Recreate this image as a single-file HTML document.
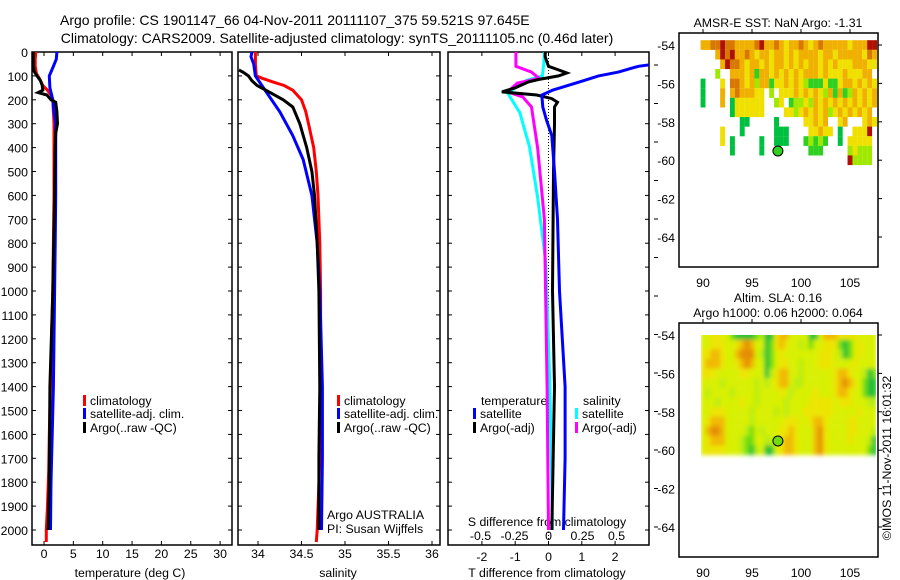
<!DOCTYPE html>
<html><head><meta charset="utf-8"><style>
html,body{margin:0;padding:0;background:#fff;}
svg{display:block;font-family:"Liberation Sans",sans-serif;}
</style></head><body>
<svg id="fig" width="900" height="580" viewBox="0 0 900 580" xmlns="http://www.w3.org/2000/svg">
<rect width="900" height="580" fill="#fff"/>
<text x="60" y="25" font-size="14">Argo profile: CS 1901147_66 04-Nov-2011 20111107_375 59.521S 97.645E</text>
<text x="337" y="43" font-size="14" text-anchor="middle">Climatology: CARS2009. Satellite-adjusted climatology: synTS_20111105.nc (0.46d later)</text>
<defs>
<clipPath id="c1"><rect x="32" y="52" width="200" height="493"/></clipPath>
<clipPath id="c2"><rect x="238" y="52" width="202" height="493"/></clipPath>
<clipPath id="c3"><rect x="448" y="52" width="201" height="493"/></clipPath>
<clipPath id="slaclip"><rect x="701" y="335" width="175" height="126"/></clipPath>
<filter id="soft" x="-5%" y="-5%" width="110%" height="110%"><feGaussianBlur stdDeviation="2.2"/></filter>
</defs>
<g id="layer"></g>
</svg>
<script>
// ---- profile data (depth in m) ----
const depthTicks = [0,100,200,300,400,500,600,700,800,900,1000,1100,1200,1300,1400,1500,1600,1700,1800,1900,2000];
const tempTicks = [0,5,10,15,20,25,30];
const salTicks = [34,34.5,35,35.5,36];
const salTickLabels = ["34","34.5","35","35.5","36"];
const tdTicks = [-2,-1,0,1,2];
const sdTicks = [-0.5,-0.25,0,0.25,0.5];
const sdTickLabels = ["-0.5","-0.25","0","0.25","0.5"];

const climTDepth = [0,30,60,90,110,140,160,180,200,250,300,400,600,800,1000,1200,1400,1600,1750,1900,2000,2050];
const climT = [-1.4,-1.5,-1.5,-1.3,-0.8,-0.2,0.6,1.2,1.5,1.6,1.7,1.7,1.7,1.6,1.5,1.3,1.1,0.9,0.8,0.6,0.4,0.4];
const satTDepth = [0,30,60,100,150,200,250,300,400,600,800,1000,1200,1400,1600,1800,2000];
const satT = [2.2,2.1,1.6,0.9,1.0,1.5,1.7,2.0,2.0,2.0,1.9,1.8,1.7,1.6,1.4,1.2,1.1];
const argoTDepth = [0,20,50,80,100,120,140,160,170,180,200,210,250,300,340,400,600,1000,1400,1800,2000];
const argoT = [-1.8,-1.8,-1.8,-1.7,-1.2,-0.6,-0.3,-0.2,-1.0,0.5,1.2,2.0,2.2,2.3,2.0,1.9,1.8,1.5,1.0,0.9,0.7];

const climSDepth = [0,50,100,110,125,140,160,200,250,300,400,500,600,800,1000,1400,1700,2000,2050];
const climS = [33.97,33.97,33.98,34.05,34.17,34.3,34.4,34.5,34.55,34.58,34.64,34.67,34.69,34.71,34.72,34.72,34.71,34.68,34.67];
const satSDepth = [0,20,50,100,170,250,350,450,600,800,1000,1400,1700,2000];
const satS = [33.93,33.92,33.95,33.97,34.1,34.25,34.4,34.52,34.62,34.68,34.71,34.74,34.74,34.73];
const argoSDepth = [75,85,100,120,140,170,200,230,300,400,500,600,800,1000,1400,1700,2000];
const argoS = [33.78,33.83,33.89,33.93,33.99,34.14,34.29,34.4,34.48,34.56,34.62,34.65,34.68,34.7,34.71,34.7,34.7];

const satTdDepth = [50,60,84,100,125,160,180,230,285,350,500,700,1000,1400,1700,2000];
const satTd = [3.2,2.7,2.1,1.5,0.93,0.12,-0.2,-0.17,-0.06,0.1,0.18,0.27,0.33,0.5,0.5,0.45];
const argoTdDepth = [0,20,40,60,75,88,100,115,125,150,167,180,195,210,230,300,500,1000,1400,2000];
const argoTd = [-0.1,-0.1,-0.05,0,0.3,0.55,0.3,-0.3,-0.6,-1.0,-1.4,-0.35,0.1,0.27,0.18,0.18,0.15,0.12,0.18,0.1];
const satSdDepth = [0,50,100,118,172,255,397,607,883,1400,2000];
const satSd = [-0.03,-0.035,-0.045,-0.16,-0.3,-0.21,-0.14,-0.08,-0.02,0.01,0.03];
const argoSdDepth = [0,40,60,84,110,130,167,188,230,400,700,1400,2000];
const argoSd = [-0.24,-0.24,-0.24,-0.125,-0.07,-0.23,-0.3,-0.19,-0.125,-0.08,-0.03,-0.01,0];

// ---- map data ----
const latTicks = [-54,-56,-58,-60,-62,-64];
const lonTicks = [90,95,100,105];
const sstRows = [
"445565544445644543445434544444344466",
"...465644543443443434444344344444354",
"....465543443434434343443434333444334",
"...2..44434144343434344434333433344",
"0...3.554342441334343211131134434343",
"0...4.4544433.2.33343434324141243434",
"0...4.0333333..23.122324343434343434",
"......0333333....332343434234343434",
"........00.....0.....33434..34...343",
"....3...0......000....33433.0..3336",
"....3.0.....0..000...12121..0.33333",
"......0.....0.........111.....23222",
"..............................62222"];
const slaRows = [
"334433100001200455333300355544443333",
"334443345653301454332313344410134333",
"445543356663201343333333444320134333",
"455543345653301344332333444333343333",
"444333334433302455332333333455433201",
"333323333332323455322333333456543100",
"323333233332333343233334333455433100",
"333233334332333332333344444344433322",
"334443333323333232333444444333334333",
"345553333323333334443345543333443333",
"356653333213233344543335643333443332",
"345553332113322345543335643333433320",
"344443332102300345543335643333333310"];
const argoLon = 97.645, argoLat = -59.521;

const NS="http://www.w3.org/2000/svg";
const layer=document.getElementById('layer');
function el(tag,attrs,parent){const e=document.createElementNS(NS,tag);for(const k in attrs)e.setAttribute(k,attrs[k]);(parent||layer).appendChild(e);return e;}
function txt(s,x,y,attrs,parent){const e=el('text',Object.assign({x:x,y:y,'font-size':12.3},attrs||{}),parent);e.textContent=s;return e;}

const Y0=52, KY=0.239, PB=545;
const yD=d=>Y0+d*KY;
const xT=v=>44+v*5.87;
const xS=v=>258+(v-34)*87;
const xTd=v=>548.5+v*33.3;
const xSd=v=>548.5+v*136;

function panel(name,x0,x1){
  const g=el('g',{});
  
  
  el('rect',{x:x0,y:Y0,width:x1-x0,height:PB-Y0,fill:'none',stroke:'#000','stroke-width':1.5},g);
  depthTicks.forEach(d=>{
    el('line',{x1:x0,x2:x0+4,y1:yD(d),y2:yD(d),stroke:'#000'},g);
    el('line',{x1:x1-4,x2:x1,y1:yD(d),y2:yD(d),stroke:'#000'},g);
  });
  return g;
}
function xticks(g,ticks,labels,fx,ly){
  ticks.forEach((t,i)=>{
    el('line',{x1:fx(t),x2:fx(t),y1:PB,y2:PB-4,stroke:'#000'},g);
    el('line',{x1:fx(t),x2:fx(t),y1:Y0,y2:Y0+4,stroke:'#000'},g);
    const lb=txt(labels[i],fx(t),ly,{'text-anchor':'middle'},g);
    
    
  });
}
function series(name,ds,vs,fx,color,clip,w){
  const pts=ds.map((d,i)=>fx(vs[i]).toFixed(1)+','+yD(d).toFixed(1)).join(' ');
  const p=el('polyline',{points:pts,fill:'none',stroke:color,'stroke-width':w||3,'clip-path':'url(#'+clip+')'});
  
  
}
function legend(g,x,y,color,label){
  el('rect',{x:x,y:y-10,width:3,height:11,fill:color},g);
  const t=txt(label,x+7,y,{},g);
  
  
}

// Panel 1
const p1=panel('temperature-panel',32,232);
depthTicks.forEach(d=>{const t=txt(String(d),28,yD(d)+5,{'text-anchor':'end'},p1);

});
xticks(p1,tempTicks,tempTicks.map(String),xT,558);
series('temp-climatology-line',climTDepth,climT,xT,'#f00','c1');
series('temp-satellite-line',satTDepth,satT,xT,'#00f','c1');
series('temp-argo-line',argoTDepth,argoT,xT,'#000','c1');
legend(p1,83,405,'#f00','climatology');
legend(p1,83,418,'#00f','satellite-adj. clim.');
legend(p1,83,432,'#000','Argo(..raw -QC)');
const a1=txt('temperature (deg C)',130,577,{'text-anchor':'middle'});



// Panel 2
const p2=panel('salinity-panel',238,440);
xticks(p2,salTicks,salTickLabels,xS,558);
series('sal-climatology-line',climSDepth,climS,xS,'#f00','c2');
series('sal-satellite-line',satSDepth,satS,xS,'#00f','c2');
series('sal-argo-line',argoSDepth,argoS,xS,'#000','c2');
legend(p2,337,405,'#f00','climatology');
legend(p2,337,418,'#00f','satellite-adj. clim.');
legend(p2,337,432,'#000','Argo(..raw -QC)');
const i1=txt('Argo AUSTRALIA',327,519,{},p2);


const i2=txt('PI: Susan Wijffels',327,533,{},p2);


const a2=txt('salinity',338,577,{'text-anchor':'middle'});



// Panel 3
const p3=panel('difference-panel',448,649);
xticks(p3,tdTicks,tdTicks.map(String),xTd,561);
sdTicks.forEach((t,i)=>{const lb=txt(sdTickLabels[i],xSd(t),540,{'text-anchor':'middle'},p3);

});
el('line',{x1:xTd(0),x2:xTd(0),y1:Y0,y2:PB,stroke:'#000','stroke-dasharray':'1,2'},p3);
series('salinity-satellite-diff-line',satSdDepth,satSd,xSd,'#0ff','c3');
series('salinity-argo-diff-line',argoSdDepth,argoSd,xSd,'#f0f','c3');
series('temp-argo-diff-line',argoTdDepth,argoTd,xTd,'#000','c3');
series('temp-satellite-diff-line',satTdDepth,satTd,xTd,'#00f','c3');
for(let k=0;k<13;k++){const yy=527-38.5*k;el('line',{x1:654,x2:658,y1:yy,y2:yy,stroke:'#000'},p3);}
const lt=txt('temperature',481,405,{},p3);
const ls=txt('salinity',583,405,{},p3);
legend(p3,473,418,'#00f','satellite');
legend(p3,473,432,'#000','Argo(-adj)');
legend(p3,575,418,'#0ff','satellite');
legend(p3,575,432,'#f0f','Argo(-adj)');
const sdt=txt('S difference from climatology',547,526,{'text-anchor':'middle'},p3);

const a3=txt('T difference from climatology',547,577,{'text-anchor':'middle'});



// Maps
const sstColors=['#00c040','#30d020','#a0e800','#f0e000','#f0b000','#d87800','#b01000'];
const slaColors=['#20c030','#70dc10','#b8ec10','#d8f000','#ece400','#f0b800','#e48c00'];
function mapPanel(name,top,rows,colors,titles,smooth){
  const g=el('g',{});
  
  
  const x0=679,x1=878,y0=top,y1=top+234;
  const fx=lon=>703+(lon-90)*9.8;
  const fy=lat=>top+12+(-54-lat)*19.2;
  let cg=g;
  if(smooth){
    const outer=el('g',{'clip-path':'url(#slaclip)'},g);
    cg=el('g',{filter:'url(#soft)'},outer);
  }
  rows.forEach((row,r)=>{
    for(let c=0;c<Math.min(row.length,36);c++){
      const ch=row[c]; if(ch==='.')continue;
      const lonL=89.75+0.5*c, latT=-53.75-0.5*r;
      const cell=el('rect',{x:fx(lonL).toFixed(2),y:fy(latT).toFixed(2),width:4.95,height:9.7,fill:colors[+ch]},cg);
      
      
    }
  });
  el('rect',{x:x0,y:y0,width:x1-x0,height:y1-y0,fill:'none',stroke:'#000','stroke-width':1.5},g);
  latTicks.forEach(l=>{
    el('line',{x1:x1,x2:x1+4,y1:fy(l),y2:fy(l),stroke:'#000'},g);
    const t=txt(String(l),675,fy(l)+5,{'text-anchor':'end'},g);
    
    
  });
  lonTicks.forEach(l=>{
    el('line',{x1:fx(l),x2:fx(l),y1:y0-4,y2:y0,stroke:'#000'},g);
    const t=txt(String(l),fx(l),y1+20,{'text-anchor':'middle'},g);
    
    
  });
  const m=el('circle',{cx:fx(argoLon),cy:fy(argoLat),r:5,fill:colors[1],stroke:'#000','stroke-width':1},g);
  
  
  titles.forEach((s,i)=>{const t=txt(s,778,top-(titles.length-1-i)*15-6,{'text-anchor':'middle'},g);
    
    });
}
mapPanel('sst-map',33,sstRows,sstColors,['AMSR-E SST: NaN Argo: -1.31'],false);
mapPanel('sla-map',323,slaRows,slaColors,['Altim. SLA: 0.16','Argo h1000: 0.06 h2000: 0.064'],true);
const cp=txt('©IMOS 11-Nov-2011 16:01:32',0,0,{'text-anchor':'middle',transform:'translate(891,458) rotate(-90)'});


</script>
</body></html>
